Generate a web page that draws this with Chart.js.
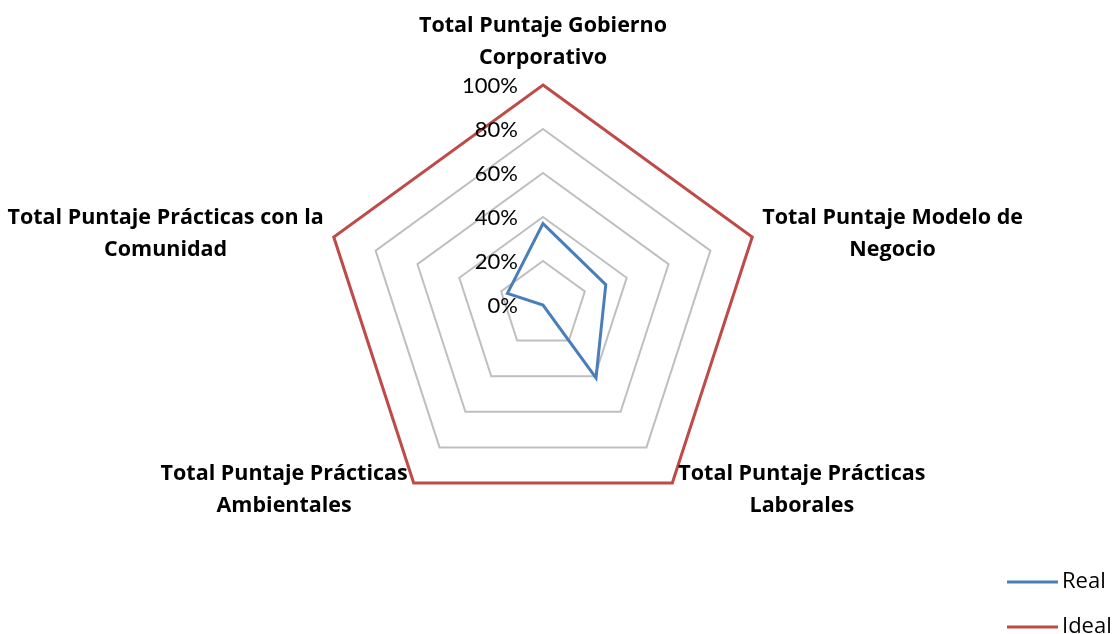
<!DOCTYPE html>
<html><head><meta charset="utf-8">
<script src="https://cdn.jsdelivr.net/npm/chart.js@4/dist/chart.umd.min.js"></script>
<style>html,body{margin:0;padding:0;background:#fff;overflow:hidden}#wrap{width:1115px;height:634px;position:relative}</style>
</head><body><div id="wrap"><canvas id="c" width="1115" height="634"></canvas></div>
<script>
const categories = [
  ['Total Puntaje Gobierno', 'Corporativo'],
  ['Total Puntaje Modelo de', 'Negocio'],
  ['Total Puntaje Prácticas', 'Laborales'],
  ['Total Puntaje Prácticas', 'Ambientales'],
  ['Total Puntaje Prácticas con la', 'Comunidad']
];
const realValues = [37, 30, 41, 0, 17];
const idealValues = [100, 100, 100, 100, 100];
const tickValues = [0, 20, 40, 60, 80, 100];
const tickLabels = ['0%', '20%', '40%', '60%', '80%', '100%'];
const seriesNames = ['Real', 'Ideal'];
const seriesColors = ['#4A7EBB', '#BE4B48'];

const LABEL_FONT = 'bold 21.5px "Open Sans"';
const TICK_FONT = '22px Lato';
const LEGEND_FONT = '22px "Open Sans"';

const overlay = {
  id: 'overlay',
  afterDraw(chart) {
    const ctx = chart.ctx;
    const s = chart.scales.r;
    ctx.save();
    // tick labels
    ctx.font = TICK_FONT;
    ctx.fillStyle = '#000';
    ctx.textAlign = 'right';
    ctx.textBaseline = 'middle';
    tickValues.forEach((v, i) => {
      const d = s.getDistanceFromCenterForValue(v);
      ctx.fillText(tickLabels[i], s.xCenter - 25, s.yCenter - d + 1);
    });
    // point labels
    ctx.font = LABEL_FONT;
    ctx.textBaseline = 'middle';
    ctx.textAlign = 'center';
    const lh = 32;
    categories.forEach((lines, i) => {
      const p = s.getPointPosition(i, s.drawingArea);
      const a = s.getIndexAngle(i);
      const sx = Math.sin(a), cy = Math.cos(a);
      const w = Math.max(...lines.map(t => ctx.measureText(t).width));
      let cx, y0;
      if (Math.abs(sx) < 0.1) {
        cx = p.x;
        y0 = p.y - 27 - lh * (lines.length - 1);
      } else {
        const upper = cy > 0;
        const gap = upper ? 10 : 6;
        cx = sx > 0 ? p.x + gap + w / 2 : p.x - gap - w / 2;
        y0 = upper ? p.y - 19 : p.y - 9;
      }
      lines.forEach((t, k) => ctx.fillText(t, cx, y0 + k * lh));
    });
    // legend
    ctx.font = LEGEND_FONT;
    ctx.textAlign = 'left';
    chart.data.datasets.forEach((ds, i) => {
      const y = 582 + i * 45;
      ctx.strokeStyle = ds.borderColor;
      ctx.lineWidth = 3;
      ctx.beginPath();
      ctx.moveTo(1007, y);
      ctx.lineTo(1058, y);
      ctx.stroke();
      ctx.fillStyle = '#000';
      ctx.fillText(ds.label, 1062, y);
    });
    ctx.restore();
  }
};

new Chart(document.getElementById('c'), {
  type: 'radar',
  data: {
    labels: categories,
    datasets: [
      { label: seriesNames[0], data: realValues, borderColor: seriesColors[0], backgroundColor: 'transparent', borderWidth: 3, pointRadius: 0, fill: false, tension: 0 },
      { label: seriesNames[1], data: idealValues, borderColor: seriesColors[1], backgroundColor: 'transparent', borderWidth: 3, pointRadius: 0, fill: false, tension: 0 }
    ]
  },
  options: {
    responsive: false,
    devicePixelRatio: 1,
    animation: false,
    plugins: { legend: { display: false }, tooltip: { enabled: false } },
    elements: { line: { borderJoinStyle: 'miter' } },
    scales: {
      r: {
        min: 0, max: 100,
        ticks: { stepSize: 20, display: false },
        grid: { color: '#BFBFBF', lineWidth: 2 },
        angleLines: { display: false },
        pointLabels: { display: false },
        afterFit: (sc) => { sc.xCenter = 543; sc.yCenter = 305; sc.drawingArea = 220; }
      }
    }
  },
  plugins: [overlay]
});
</script></body></html>
